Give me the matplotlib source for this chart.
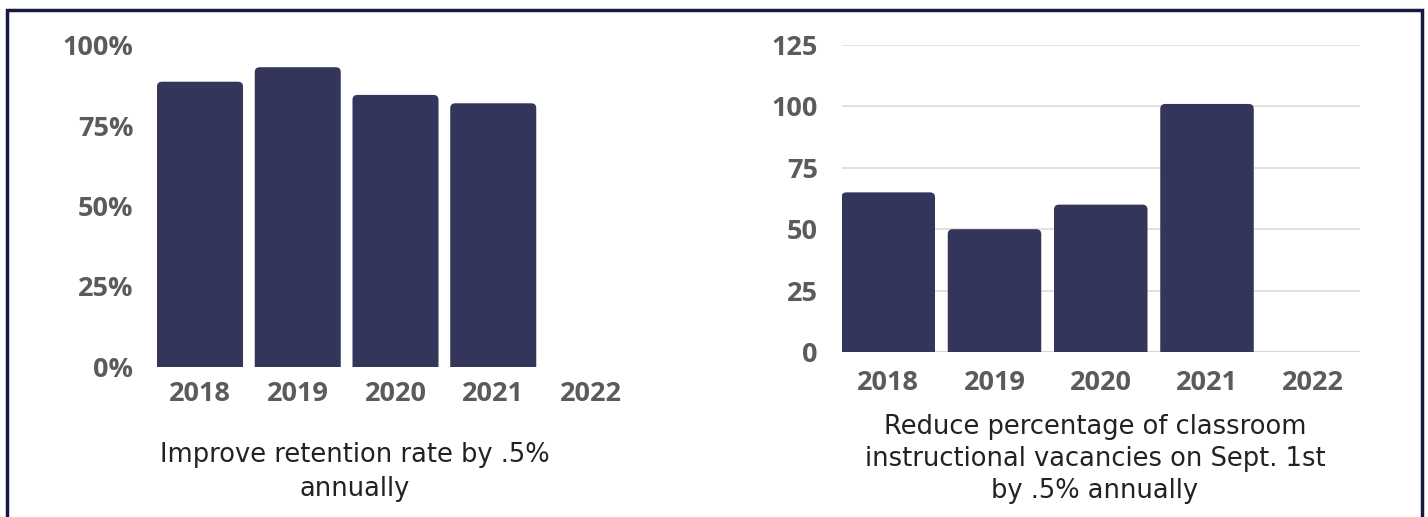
import matplotlib
matplotlib.use("Agg")
import matplotlib.pyplot as plt
from matplotlib.patches import Rectangle, FancyBboxPatch
from matplotlib.ticker import FuncFormatter

years = ["2018", "2019", "2020", "2021", "2022"]
retention = [88.6, 93.1, 84.5, 81.9, None]
vacancies = [65, 50, 60, 101, None]

retention_title = "Improve retention rate by .5%\nannually"
vacancy_title = "Reduce percentage of classroom\ninstructional vacancies on Sept. 1st\nby .5% annually"

bar_color = "#33365a"
tick_color = "#5b5b5b"
W, H = 1428, 517

fig = plt.figure(figsize=(W / 100, H / 100), dpi=100)


def draw_bars(ax, values, width=0.88, radius_px=5):
  # bars with rounded top corners; bottom rounding sits below 0 and is clipped
  bb = ax.get_position()
  x0, x1 = ax.get_xlim()
  y0, y1 = ax.get_ylim()
  xpp = (x1 - x0) / (bb.width * W)
  ypp = (y1 - y0) / (bb.height * H)
  r = radius_px * xpp
  for i, v in enumerate(values):
    if v is None:
      continue
    below = 2 * radius_px * ypp
    p = FancyBboxPatch((i - width / 2, -below), width, v + below,
                       boxstyle=f"round,pad=0,rounding_size={r}",
                       mutation_aspect=ypp / xpp,
                       facecolor=bar_color, edgecolor="none", lw=0)
    ax.add_patch(p)
    p.set_clip_path(ax.patch)


def style_axis(ax, xpad):
  for s in ax.spines.values():
    s.set_visible(False)
  ax.set_xticks(range(len(years)))
  ax.set_xticklabels(years)
  ax.tick_params(axis="both", length=0, colors=tick_color, labelsize=19.5)
  ax.tick_params(axis="y", pad=17)
  ax.tick_params(axis="x", pad=xpad)
  for lab in ax.get_xticklabels() + ax.get_yticklabels():
    lab.set_fontfamily("Open Sans")
    lab.set_fontweight("bold")


# left chart: retention rate
ax1 = fig.add_axes([157 / W, (H - 367) / H, 477 / W, 322 / H])
ax1.set_xlim(-0.44, 4.44)
ax1.set_ylim(0, 100)
ax1.set_yticks([0, 25, 50, 75, 100])
ax1.yaxis.set_major_formatter(FuncFormatter(lambda v, p: f"{int(v)}%"))
draw_bars(ax1, retention)
style_axis(ax1, 10)

# right chart: vacancies
ax2 = fig.add_axes([841.5 / W, (H - 352) / H, 518.5 / W, 307 / H])
ax2.set_xlim(-0.44, 4.44)
ax2.set_ylim(0, 125)
ax2.set_yticks([0, 25, 50, 75, 100, 125])
ax2.grid(axis="y", color="#dcdcdc", lw=1.2)
ax2.set_axisbelow(True)
ax2.axhline(0, color="#c8c8c8", lw=1.5, zorder=0.5)
draw_bars(ax2, vacancies)
style_axis(ax2, 13)

fig.text(355 / W, 1 - 472 / H, retention_title, ha="center", va="center",
         fontsize=18.5, family="DejaVu Sans", color="#222222", linespacing=1.37)
fig.text(1095 / W, 1 - 459 / H, vacancy_title, ha="center", va="center",
         fontsize=18.5, family="DejaVu Sans", color="#222222", linespacing=1.32)

# dark frame around the whole graphic
fig.patches.append(Rectangle((7 / W, -0.05), 1415 / W, (H - 10) / H + 0.05,
                             transform=fig.transFigure, fill=False,
                             edgecolor="#161b3d", lw=2.5))

fig.savefig("out.png", dpi=100)
